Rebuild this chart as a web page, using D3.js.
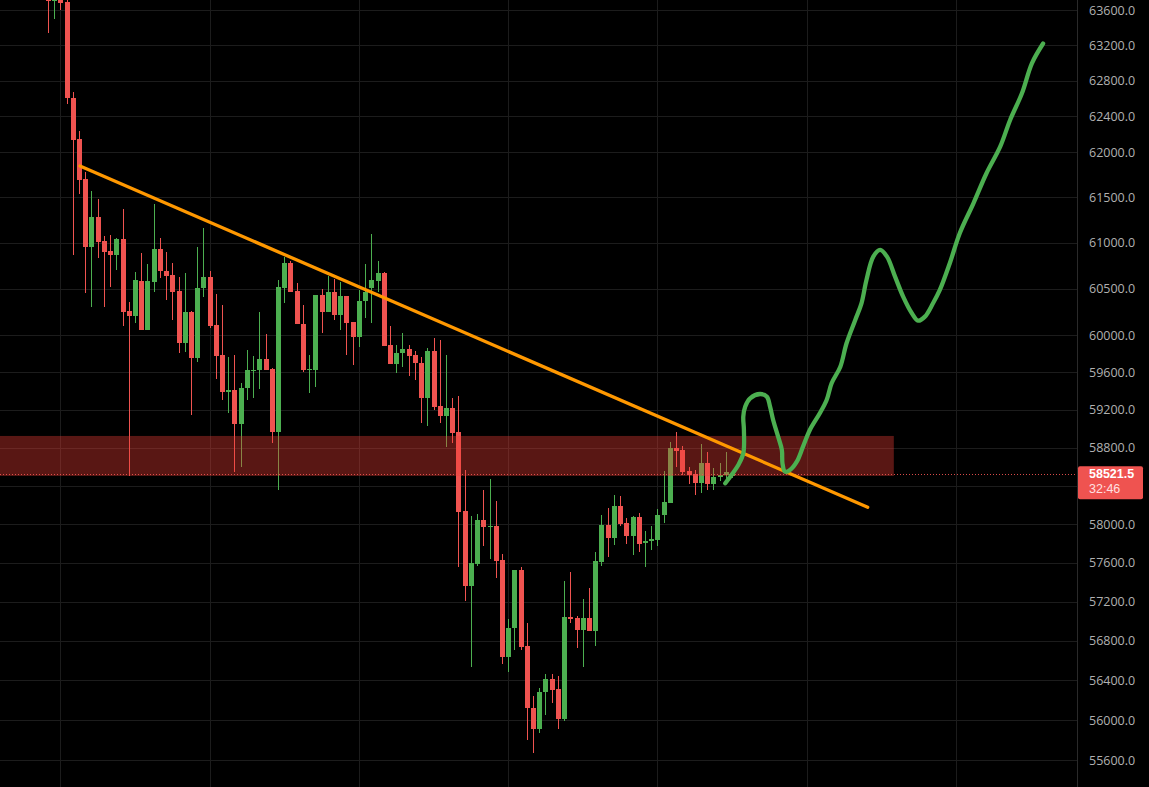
<!DOCTYPE html>
<html>
<head>
<meta charset="utf-8">
<script src="https://cdn.jsdelivr.net/npm/d3@7"></script>
<style>
  html, body { margin: 0; padding: 0; background: #000; overflow: hidden; }
  svg { display: block; }
</style>
</head>
<body>
<svg id="chart" width="1149" height="787"></svg>
<script>
// ---------- DATA ----------
const priceTicks = [55600, 56000, 56400, 56800, 57200, 57600, 58000, 58400, 58800, 59200,
                    59600, 60000, 60500, 61000, 61500, 62000, 62400, 62800, 63200, 63600];
const timeTicks = [2, 26, 50, 74, 98, 122, 146];

const opens = [63900, 63700, 63900, 63691, 62610, 62146, 61703, 60959, 61284, 61024,
  60915, 60867, 61046, 60260, 60209, 60585, 60055, 60577, 60934, 60697,
  60650, 60476, 59919, 60246, 59751, 60505, 60625, 60106, 59787, 59395,
  59413, 59052, 59431, 59615, 59626, 59740, 59637, 58970, 60512, 60785,
  60476, 60116, 59626, 59626, 60433, 60253, 60469, 60217, 60422, 60145,
  59983, 60368, 60505, 60585, 60676, 59894, 59690, 59805, 59848, 59787,
  59698, 59331, 59833, 59242, 59140, 59218, 58965, 58139, 57365, 57588,
  58044, 57974, 57985, 57629, 56640, 56929, 57526, 56748, 56118, 55907,
  56285, 56410, 56309, 56007, 57047, 57037, 56911, 57037, 56904, 57612,
  57988, 57861, 58190, 58016, 57878, 58072, 57809, 57830, 57837, 58093,
  58225, 58801, 58777, 58556, 58524, 58427, 58644, 58417, 58490, 58514, 58500];
const highs = [64000, 64050, 63950, 63720, 62667, 62236, 61784, 61570, 61481, 61076,
  61087, 61054, 61372, 60361, 60687, 60887, 60770, 61427, 61050, 60904,
  60785, 60625, 60669, 60260, 60959, 61160, 60697, 60444, 60325, 59762,
  59790, 59484, 59840, 59776, 60252, 60012, 59650, 60596, 60850, 60807,
  60560, 60325, 59790, 60433, 60498, 60639, 60603, 60577, 60422, 60145,
  60487, 60768, 61098, 60803, 60687, 60098, 59894, 60026, 59894, 59833,
  59762, 59858, 59965, 59951, 59787, 59324, 59349, 58568, 58088, 58103,
  58357, 58468, 58240, 57691, 57023, 57530, 57553, 56980, 56240, 56321,
  56464, 56464, 56444, 57413, 57508, 57050, 57228, 57338, 57709, 58096,
  58174, 58304, 58294, 58062, 58086, 58114, 57931, 57983, 58155, 58560,
  58865, 58964, 58819, 58600, 58568, 58840, 58759, 58585, 58644, 58759, 58560];
const lows = [63340, 63500, 63600, 62534, 60864, 61533, 60451, 60307, 60832, 60307,
  60516, 60704, 60100, 58504, 60134, 60055, 60055, 60469, 60614, 60379,
  60163, 59811, 59822, 59147, 59708, 60415, 60080, 59527, 59306, 59165,
  58549, 58600, 59306, 59330, 59420, 59626, 58854, 58357, 60350, 60469,
  60116, 59608, 59377, 59448, 60020, 60253, 60163, 60055, 59787, 59683,
  59869, 60181, 60127, 60469, 59886, 59690, 59590, 59655, 59565, 59520,
  59059, 59030, 59200, 59066, 58812, 58854, 57560, 57210, 56535, 57567,
  57774, 57636, 57447, 56565, 56487, 56708, 56708, 55800, 55667, 55866,
  56050, 56175, 55907, 55990, 56986, 56731, 56538, 56904, 56748, 57570,
  57663, 57782, 57981, 57795, 57678, 57714, 57560, 57733, 57774, 58009,
  58225, 58600, 58514, 58420, 58305, 58329, 58357, 58357, 58448, 58460, 58480];
const closes = [63700, 63900, 63683, 62608, 62138, 61691, 60959, 61284, 61013, 60904,
  60867, 61046, 60253, 60209, 60596, 60055, 60585, 60934, 60697, 60643,
  60469, 59919, 60246, 59751, 60505, 60625, 60098, 59779, 59395, 59413,
  59052, 59431, 59626, 59626, 59740, 59626, 58970, 60523, 60785, 60469,
  60116, 59626, 59637, 60433, 60253, 60469, 60217, 60422, 60134, 59983,
  60368, 60469, 60596, 60676, 59886, 59690, 59811, 59848, 59779, 59698,
  59331, 59833, 59235, 59140, 59218, 58960, 58131, 57365, 57595, 58044,
  57974, 57985, 57622, 56640, 56929, 57526, 56741, 56118, 55907, 56285,
  56410, 56300, 56007, 57047, 57020, 56911, 57037, 56904, 57619, 57988,
  57861, 58190, 58002, 57878, 58072, 57795, 57830, 57847, 58096, 58232,
  58801, 58766, 58549, 58514, 58427, 58644, 58417, 58490, 58514, 58549, 58521.5];

const lastPrice = 58521.5;
const countdown = "32:46";

// support/resistance zone [from index, to index, top price, bottom price]
const zoneBounds = [-8, 136, 58925, 58504];
// trend line endpoints [index, price]
const trendStart = [5.16, 61846];
const trendEnd = [131.8, 58177];
// hand-drawn projection [index, price]
const projIdx = [108.9, 109.9, 111.0, 111.8, 111.9, 111.8, 112.1, 112.9, 114.5, 115.6,
  116.1, 116.6, 117.4, 118.0, 118.1, 118.5, 119.3, 120.4, 121.4, 122.5,
  124.1, 125.2, 126.0, 127.4, 128.4, 129.8, 130.8, 131.6, 132.7, 133.8,
  134.9, 136.2, 137.5, 138.9, 139.9, 141.0, 142.3, 143.4, 145.0, 146.6,
  148.8, 150.9, 153.1, 154.7, 156.6, 158.2, 160.0];
const projPrice = [58427, 58514, 58619, 58742, 58988, 59129, 59235, 59324, 59370, 59341,
  59235, 59094, 58917, 58777, 58637, 58549, 58566, 58654, 58812, 58988,
  59165, 59306, 59484, 59661, 59912, 60163, 60343, 60596, 60850, 60923,
  60850, 60632, 60415, 60235, 60155, 60199, 60343, 60487, 60778, 61105,
  61434, 61766, 62061, 62359, 62658, 62995, 63219];

// ---------- LAYOUT ----------
const W = 1149, H = 787;
const plotRight = 1077;
const upColor = "#4caf50", downColor = "#ef5350";
const fontFam = "'Open Sans', 'Noto Sans', sans-serif";
const badgeFont = "'Liberation Sans', Arial, sans-serif";

const svg = d3.select("#chart");
svg.append("rect").attr("width", W).attr("height", H).attr("fill", "#000");

const x = d3.scaleLinear().domain([-7.7, 165.45]).range([0, plotRight]);
const y = d3.scaleLog().domain([55600, 63600]).range([760, 10]);

svg.append("defs").append("clipPath").attr("id", "plotClip")
  .append("rect").attr("x", 0).attr("y", 0).attr("width", plotRight).attr("height", H);

const plot = svg.append("g").attr("clip-path", "url(#plotClip)");

// grid
plot.append("g").selectAll("line").data(priceTicks).join("line")
  .attr("x1", 0).attr("x2", plotRight)
  .attr("y1", d => Math.round(y(d)) + 0.5).attr("y2", d => Math.round(y(d)) + 0.5)
  .attr("stroke", "#1c1c1c").attr("stroke-width", 1);
plot.append("g").selectAll("line").data(timeTicks).join("line")
  .attr("y1", 0).attr("y2", H)
  .attr("x1", d => Math.round(x(d)) + 0.5).attr("x2", d => Math.round(x(d)) + 0.5)
  .attr("stroke", "#1c1c1c").attr("stroke-width", 1);

// candles
const candles = opens.map((o, i) => ({ i, o, h: highs[i], l: lows[i], c: closes[i] }));
const cg = plot.append("g").attr("shape-rendering", "crispEdges");
const cs = cg.selectAll("g").data(candles).join("g");
cs.append("rect")
  .attr("x", d => Math.round(x(d.i)))
  .attr("width", 1)
  .attr("y", d => y(d.h))
  .attr("height", d => Math.max(1, y(d.l) - y(d.h)))
  .attr("fill", d => d.c >= d.o ? upColor : downColor);
cs.append("rect")
  .attr("x", d => Math.round(x(d.i)) - 2)
  .attr("width", 5)
  .attr("y", d => y(Math.max(d.o, d.c)))
  .attr("height", d => Math.max(1, Math.abs(y(d.o) - y(d.c))))
  .attr("fill", d => d.c >= d.o ? upColor : downColor);

// zone
plot.append("rect")
  .attr("x", x(zoneBounds[0])).attr("width", x(zoneBounds[1]) - x(zoneBounds[0]))
  .attr("y", y(zoneBounds[2])).attr("height", y(zoneBounds[3]) - y(zoneBounds[2]))
  .attr("fill", "rgba(242,62,54,0.37)");

// last price dotted line
plot.append("line")
  .attr("x1", 0).attr("x2", plotRight)
  .attr("y1", Math.round(y(lastPrice)) + 0.5).attr("y2", Math.round(y(lastPrice)) + 0.5)
  .attr("stroke", "#ef5350").attr("stroke-width", 1).attr("stroke-dasharray", "1 2")
  .attr("opacity", 0.9);

// trend line
plot.append("line")
  .attr("x1", x(trendStart[0])).attr("y1", y(trendStart[1]))
  .attr("x2", x(trendEnd[0])).attr("y2", y(trendEnd[1]))
  .attr("stroke", "#ff9800").attr("stroke-width", 3.3).attr("stroke-linecap", "round");

// projection path
const proj = projIdx.map((v, k) => [v, projPrice[k]]);
plot.append("path")
  .attr("d", d3.line().x(d => x(d[0])).y(d => y(d[1])).curve(d3.curveCatmullRom.alpha(0.5))(proj))
  .attr("fill", "none").attr("stroke", upColor).attr("stroke-width", 4.3)
  .attr("stroke-linecap", "round").attr("stroke-linejoin", "round");

// price axis
svg.append("rect").attr("x", plotRight).attr("y", 0).attr("width", W - plotRight).attr("height", H).attr("fill", "#000");
svg.append("line").attr("x1", plotRight + 0.5).attr("x2", plotRight + 0.5).attr("y1", 0).attr("y2", H)
  .attr("stroke", "#2a2a2a");

// labels hidden where the last-price badge covers them
const ly = y(lastPrice);
const labelTicks = priceTicks.filter(t => Math.abs(y(t) - (ly + 8)) > 22);

const axis = svg.append("g").attr("transform", `translate(${plotRight},0)`)
  .call(d3.axisRight(y).tickValues(labelTicks).tickFormat(d => d.toFixed(1)).tickSize(0).tickPadding(12));
axis.select(".domain").remove();
axis.selectAll("text")
  .attr("fill", "#b0b0b0")
  .style("font-family", fontFam)
  .style("font-size", "12.5px");

// last price label
const lab = svg.append("g");
lab.append("rect").attr("x", plotRight + 1).attr("y", ly - 8).attr("width", 65).attr("height", 33)
  .attr("rx", 2).attr("fill", "#ef5350");
lab.append("text").attr("x", plotRight + 12).attr("y", ly + 4)
  .attr("fill", "#fff").style("font-family", badgeFont)
  .style("font-size", "12.5px").style("font-weight", "bold").text(lastPrice.toFixed(1));
lab.append("text").attr("x", plotRight + 12).attr("y", ly + 19)
  .attr("fill", "#ffe0e0").style("font-family", badgeFont)
  .style("font-size", "12.5px").text(countdown);
</script>
</body>
</html>
